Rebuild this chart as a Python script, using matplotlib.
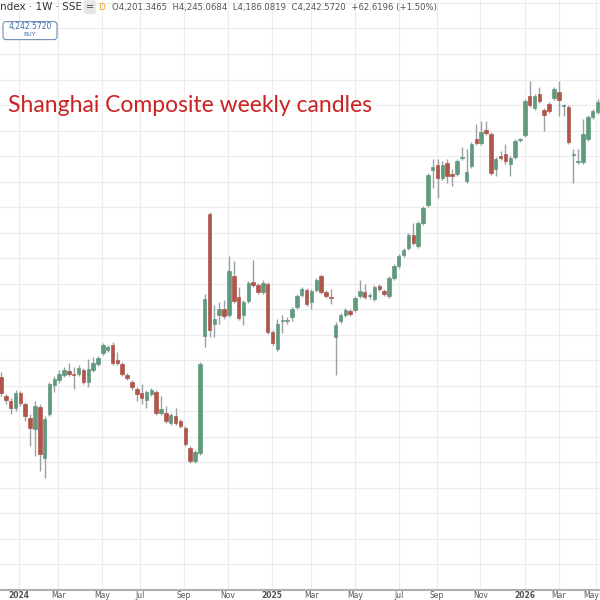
import matplotlib.pyplot as plt
import numpy as np
from matplotlib.patches import FancyBboxPatch

# weekly OHLC (index points)
opens = [3140, 3060, 3040, 3012, 3076, 3028, 2972, 2928, 3016, 2812,
         2988, 3108, 3128, 3148, 3164, 3150, 3152, 3168, 3120, 3168,
         3192, 3236, 3248, 3268, 3208, 3192, 3148, 3120, 3092, 3072,
         3044, 3068, 3080, 2992, 2992, 2952, 2980, 2960, 2932, 2852,
         2800, 2832, 3304, 3796, 3352, 3388, 3412, 3388, 3548, 3460,
         3388, 3444, 3520, 3508, 3480, 3512, 3320, 3252, 3364, 3364,
         3380, 3420, 3468, 3488, 3440, 3488, 3548, 3480, 3460, 3300,
         3364, 3388, 3404, 3408, 3464, 3480, 3464, 3452, 3504, 3484,
         3464, 3540, 3588, 3632, 3660, 3712, 3668, 3760, 3832, 3972,
         3996, 3940, 4004, 3956, 3956, 4024, 3928, 3992, 4100, 4084,
         4136, 4120, 3980, 4032, 4040, 4000, 4028, 4096, 4116, 4272,
         4224, 4280, 4216, 4240, 4264, 4288, 4232, 4228, 4036, 4008,
         4008, 4100, 4188, 4208]
highs = [3160, 3068, 3052, 3088, 3084, 3036, 2988, 3040, 3028, 2980,
         3120, 3144, 3168, 3180, 3196, 3180, 3188, 3176, 3212, 3220,
         3224, 3276, 3268, 3280, 3240, 3200, 3156, 3128, 3100, 3112,
         3088, 3096, 3088, 3060, 3020, 2992, 3012, 2968, 2940, 2860,
         2844, 3200, 3472, 3804, 3428, 3440, 3448, 3628, 3608, 3500,
         3448, 3524, 3612, 3516, 3532, 3520, 3328, 3372, 3388, 3380,
         3420, 3472, 3500, 3496, 3492, 3540, 3556, 3488, 3492, 3360,
         3396, 3416, 3412, 3464, 3532, 3512, 3476, 3508, 3512, 3492,
         3548, 3596, 3636, 3660, 3720, 3760, 3768, 3828, 3960, 4020,
         4020, 4012, 4020, 3980, 4020, 4068, 4060, 4088, 4160, 4172,
         4172, 4128, 4028, 4052, 4080, 4032, 4100, 4104, 4260, 4332,
         4280, 4308, 4224, 4248, 4308, 4332, 4240, 4236, 4060, 4060,
         4180, 4196, 4220, 4260]
lows = [3060, 3028, 2988, 3000, 3020, 2960, 2860, 2820, 2760, 2732,
        2980, 3080, 3116, 3140, 3144, 3092, 3144, 3112, 3100, 3160,
        3184, 3228, 3240, 3188, 3188, 3144, 3128, 3088, 3040, 3028,
        3012, 3060, 2984, 2984, 2952, 2944, 2944, 2932, 2860, 2792,
        2792, 2824, 3260, 3300, 3300, 3352, 3372, 3380, 3436, 3368,
        3348, 3436, 3500, 3472, 3472, 3312, 3268, 3244, 3316, 3352,
        3364, 3412, 3460, 3424, 3412, 3480, 3472, 3456, 3432, 3148,
        3356, 3380, 3384, 3400, 3456, 3452, 3452, 3444, 3484, 3464,
        3456, 3532, 3580, 3624, 3652, 3672, 3660, 3752, 3824, 3900,
        3860, 3932, 3920, 3908, 3948, 4016, 3920, 3984, 4076, 4076,
        4116, 3952, 3948, 4016, 4000, 3948, 4020, 4088, 4108, 4228,
        4216, 4244, 4132, 4204, 4256, 4192, 4192, 4080, 3920, 4000,
        4000, 4092, 4180, 4200]
closes = [3072, 3044, 3012, 3076, 3032, 2980, 2932, 3020, 2828, 2968,
          3112, 3132, 3152, 3168, 3152, 3148, 3176, 3120, 3172, 3196,
          3216, 3268, 3260, 3196, 3196, 3152, 3136, 3100, 3068, 3052,
          3080, 3088, 2992, 3008, 2960, 2984, 2952, 2940, 2868, 2800,
          2836, 3192, 3452, 3328, 3372, 3412, 3384, 3568, 3444, 3376,
          3440, 3516, 3508, 3480, 3516, 3320, 3276, 3352, 3368, 3368,
          3412, 3464, 3492, 3432, 3484, 3532, 3480, 3464, 3458, 3348,
          3388, 3408, 3392, 3456, 3484, 3460, 3466, 3500, 3492, 3472,
          3540, 3588, 3628, 3652, 3712, 3680, 3760, 3820, 3952, 3988,
          3940, 3996, 3948, 3948, 4012, 4026, 3964, 4080, 4084, 4128,
          4124, 3960, 4020, 4024, 4012, 4024, 4092, 4098, 4252, 4236,
          4272, 4252, 4196, 4212, 4300, 4256, 4234, 4088, 4038, 4010,
          4120, 4188, 4212, 4248]

month_pos = [3.7, 11.8, 20.8, 28.7, 37.7, 46.8, 55.9, 64.0, 73.0, 82.0,
             89.9, 98.8, 108.0, 115.0, 122.6]
month_lbl = ['2024', 'Mar', 'May', 'Jul', 'Sep', 'Nov', '2025', 'Mar', 'May',
             'Jul', 'Sep', 'Nov', '2026', 'Mar', 'May']

up_col = '#5f9a7c'
dn_col = '#b0554a'

fig = plt.figure(figsize=(6, 6), dpi=100)
ax = fig.add_axes([0, 10 / 600, 1, 1 - 10 / 600])

x = np.arange(len(opens))
o = np.array(opens)
c = np.array(closes)
cols = np.where(c >= o, up_col, dn_col)
ax.vlines(x, lows, highs, colors='#9aa0a6', linewidth=1, zorder=2)
body = np.maximum(np.abs(c - o), 4)
ax.bar(x, body, bottom=np.minimum(o, c), width=0.72, color=cols,
       edgecolor=cols, linewidth=0.5, zorder=3)

ax.set_xlim(-0.2, 123.5)
ax.set_ylim(4660 - 4 * 590, 4660)
ax.set_yticks(np.arange(3000 - 103 * 7, 4700, 103))
ax.set_xticks(month_pos)
ax.grid(color='#ececec', linewidth=0.8, zorder=0)
ax.tick_params(length=0, labelleft=False, labelbottom=False)
for s in ['top', 'left', 'right']:
    ax.spines[s].set_visible(False)
ax.spines['bottom'].set_color('#b0b0b0')
ax.spines['bottom'].set_linewidth(1.5)

for p, l in zip(month_pos, month_lbl):
    xf = (p + 0.2) / 123.7
    if xf > 0.985:
        xf = 0.985
    fig.text(xf, 0.007, l, ha='center', va='center', fontsize=5.5,
             color='#555555', fontweight='bold' if l.isdigit() else 'normal')

fig.text(0.0, 0.988, 'ndex · 1W · SSE', fontsize=7.5, color='#333333', va='center')
fig.text(0.143, 0.988, '=', fontsize=7, color='#444444', va='center',
         bbox=dict(boxstyle='round,pad=0.2', fc='#e6e6e6', ec='none'))
fig.text(0.163, 0.988, 'D', fontsize=6.5, color='#f0a020', va='center')
fig.text(0.186, 0.988, 'O4,201.3465  H4,245.0684  L4,186.0819  C4,242.5720  +62.6196 (+1.50%)',
         fontsize=6.1, color='#555555', va='center')
fig.patches.append(FancyBboxPatch((0.005, 0.934), 0.09, 0.03,
                                  boxstyle='round,pad=0,rounding_size=0.005',
                                  transform=fig.transFigure, fc='white',
                                  ec='#6f8fb5', lw=0.8))
fig.text(0.05, 0.956, '4,242.5720', fontsize=5.5, color='#3a6aa8', ha='center', va='center')
fig.text(0.05, 0.942, 'BUY', fontsize=4.5, color='#3a6aa8', ha='center', va='center')

fig.text(0.013, 0.825, 'Shanghai Composite weekly candles', fontsize=16.5,
         color='#cc2222', family=['Lato', 'DejaVu Sans'], va='center')

fig.savefig('out.png', dpi=100)
